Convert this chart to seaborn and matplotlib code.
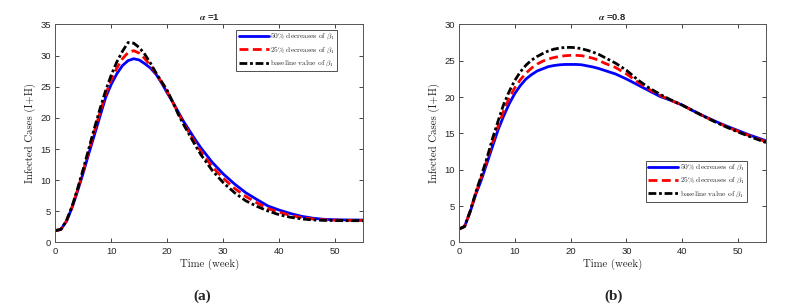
import numpy as np
import pandas as pd
import matplotlib
matplotlib.use("Agg")
import matplotlib.pyplot as plt
import seaborn as sns

# ---------------- data ----------------
weeks = [0, 1, 2, 3, 4, 5, 6, 7, 8, 9, 10, 11, 12, 13, 14, 15, 16, 17, 18, 19,
         20, 21, 22, 23, 24, 25, 26, 28, 30, 32, 34, 36, 38, 40, 42, 44, 46,
         48, 50, 52, 55]

series_labels = [r"$\mathrm{50\%\ decreases\ of\ }\beta_1$",
                 r"$\mathrm{25\%\ decreases\ of\ }\beta_1$",
                 r"$\mathrm{baseline\ value\ of\ }\beta_1$"]

# alpha = 1
a1_dec50 = [1.9, 2.1, 3.4, 5.6, 8.3, 11.2, 14.3, 17.3, 20.3, 23.3, 25.4, 27.1,
            28.4, 29.2, 29.5, 29.3, 28.7, 28.0, 27.0, 25.6, 24.0, 22.5, 20.9,
            19.3, 17.9, 16.5, 15.2, 12.9, 11.0, 9.4, 8.0, 6.9, 5.85, 5.2, 4.65,
            4.2, 3.9, 3.72, 3.65, 3.62, 3.6]
a1_dec25 = [1.9, 2.1, 3.45, 5.7, 8.5, 11.5, 14.7, 17.9, 20.9, 23.8, 26.1, 28.0,
            29.5, 30.5, 30.8, 30.4, 29.5, 28.4, 27.1, 25.7, 24.2, 22.5, 20.7,
            19.0, 17.5, 16.0, 14.6, 12.2, 10.3, 8.7, 7.4, 6.35, 5.45, 4.85,
            4.35, 4.0, 3.77, 3.64, 3.58, 3.55, 3.55]
a1_base = [1.9, 2.1, 3.5, 5.8, 8.7, 11.8, 15.1, 18.4, 21.5, 24.4, 26.9, 29.0,
           30.7, 32.1, 32.0, 31.3, 30.2, 28.8, 27.2, 25.8, 24.4, 22.5, 20.5,
           18.8, 17.2, 15.6, 14.1, 11.6, 9.6, 8.0, 6.7, 5.8, 5.05, 4.45, 4.05,
           3.78, 3.62, 3.55, 3.52, 3.5, 3.5]

# alpha = 0.8
a08_dec50 = [1.85, 2.2, 4.2, 6.6, 8.6, 10.9, 13.2, 15.5, 17.4, 19.1, 20.5,
             21.6, 22.5, 23.1, 23.6, 23.9, 24.2, 24.35, 24.45, 24.5, 24.5,
             24.5, 24.45, 24.3, 24.15, 23.95, 23.7, 23.2, 22.5, 21.7, 20.9,
             20.1, 19.55, 18.9, 18.1, 17.35, 16.65, 16.0, 15.4, 14.8, 14.0]
a08_dec25 = [1.85, 2.2, 4.25, 6.75, 9.0, 11.3, 13.7, 16.0, 18.1, 19.9, 21.3,
             22.4, 23.3, 24.0, 24.55, 24.95, 25.25, 25.45, 25.6, 25.7, 25.75,
             25.75, 25.7, 25.55, 25.35, 25.1, 24.7, 24.1, 23.2, 22.1, 21.1,
             20.25, 19.55, 18.9, 18.1, 17.3, 16.6, 15.9, 15.3, 14.7, 13.85]
a08_base = [1.85, 2.2, 4.3, 6.9, 9.2, 11.6, 14.3, 16.7, 19.0, 20.8, 22.3,
            23.5, 24.4, 25.1, 25.6, 26.0, 26.35, 26.6, 26.75, 26.85, 26.85,
            26.8, 26.65, 26.45, 26.2, 25.9, 25.5, 24.7, 23.7, 22.4, 21.3,
            20.4, 19.6, 18.9, 18.1, 17.3, 16.55, 15.85, 15.2, 14.6, 13.75]

panel_titles = [r"$\boldsymbol{\alpha}$ =1", r"$\boldsymbol{\alpha}$ =0.8"]
panel_tags = ["(a)", "(b)"]
x_ticks = [0, 10, 20, 30, 40, 50]
y_ticks_list = [[0, 5, 10, 15, 20, 25, 30, 35], [0, 5, 10, 15, 20, 25, 30]]
y_lims = [(0, 35), (0, 30)]

# ---------------- style ----------------
sns.set_style("ticks")
plt.rcParams["font.family"] = ["Liberation Sans", "DejaVu Sans"]
plt.rcParams["mathtext.fontset"] = "cm"
plt.rcParams["axes.unicode_minus"] = False

colors = {series_labels[0]: "#0000ff", series_labels[1]: "#ff0000",
          series_labels[2]: "#000000"}
dashes = {series_labels[0]: "", series_labels[1]: (3.2, 1.6),
          series_labels[2]: (2.8, 1.0, 1.0, 1.0)}


def make_df(vals):
    frames = []
    for lab, v in zip(series_labels, vals):
        frames.append(pd.DataFrame({"t": weeks, "v": v, "series": lab}))
    return pd.concat(frames, ignore_index=True)


dfs = [make_df([a1_dec50, a1_dec25, a1_base]),
       make_df([a08_dec50, a08_dec25, a08_base])]

fig = plt.figure(figsize=(7.85, 3.08), dpi=100)
positions = [[0.0704, 0.2127, 0.3924, 0.7078],
             [0.5847, 0.2127, 0.3911, 0.7078]]
legend_anchor = [(0.915, 0.975), (0.937, 0.375)]
tag_x = [0.258, 0.781]

for i in range(2):
    ax = fig.add_axes(positions[i])
    sns.lineplot(data=dfs[i], x="t", y="v", hue="series", style="series",
                 palette=colors, dashes=dashes, linewidth=2.0, ax=ax,
                 estimator=None, sort=False)
    ax.set_xlim(0, 55)
    ax.set_ylim(*y_lims[i])
    ax.set_xticks(x_ticks)
    ax.set_yticks(y_ticks_list[i])
    ax.tick_params(direction="in", top=True, right=True, length=3,
                   width=0.6, labelsize=6.8, colors="#262626", pad=3)
    for sp in ax.spines.values():
        sp.set_visible(True)
        sp.set_linewidth(0.7)
        sp.set_color("#555555")
    ax.set_xlabel("Time (week)", fontfamily="cmr10", fontsize=7.8, labelpad=2,
                  color="#222222")
    ax.set_ylabel("Infected Cases (I+H)", fontfamily="cmr10", fontsize=7.8,
                  labelpad=3, color="#222222")
    ax.set_title(panel_titles[i], fontsize=6.8, fontweight="bold", pad=3)
    handles, labels = ax.get_legend_handles_labels()
    leg = ax.legend(handles, labels, loc="upper right",
                    bbox_to_anchor=legend_anchor[i], borderaxespad=0,
                    prop={"size": 5.4}, handlelength=4.0,
                    handletextpad=0.2, labelspacing=0.4, borderpad=0.3,
                    fancybox=False, framealpha=1, edgecolor="#333333")
    leg.get_frame().set_linewidth(0.6)
    fig.text(tag_x[i], 0.038, panel_tags[i], ha="center", va="center",
             fontsize=11, fontweight="bold", fontfamily="Liberation Serif")

fig.savefig("out.png", dpi=100)
